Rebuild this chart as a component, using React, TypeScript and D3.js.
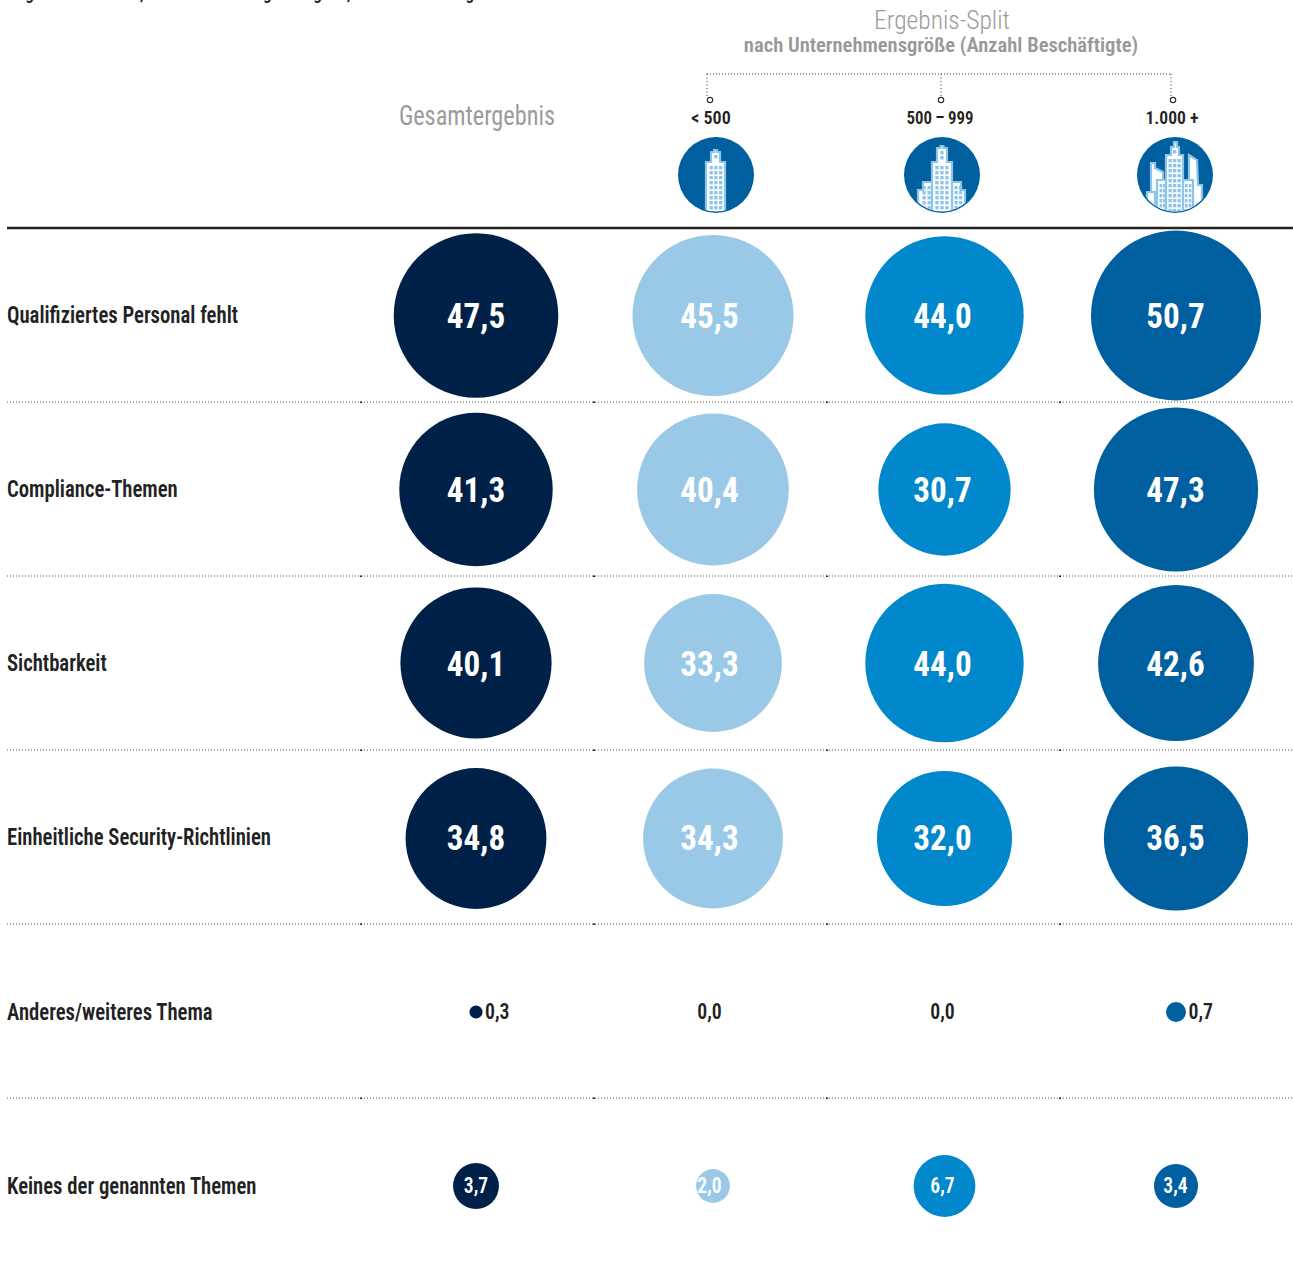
import React from "react";
import * as d3 from "d3";

const topics = ["Qualifiziertes Personal fehlt","Compliance-Themen","Sichtbarkeit","Einheitliche Security-Richtlinien","Anderes/weiteres Thema","Keines der genannten Themen"];
const gesamt = [47.5,41.3,40.1,34.8,0.3,3.7];
const u500 = [45.5,40.4,33.3,34.3,0,2.0];
const m500 = [44.0,30.7,44.0,32.0,0,6.7];
const g1000 = [50.7,47.3,42.6,36.5,0.7,3.4];
const seriesValues = [gesamt,u500,m500,g1000];
const seriesColors = ["#002147","#9ac9e7","#0087cc","#00609f"];
const sizeLabels = ["< 500","500\u2009\u2013\u2009999","1.000 +"];

const FONT = "'Roboto Condensed',Roboto,'Liberation Sans',sans-serif";
const r = d3.scaleSqrt().domain([0,50.7]).range([0,85]);
const fmt = (v:number)=>v.toFixed(1).replace(".",",");
const rowY = [315.5,489.5,663,838.5,1012,1186];
const textRowY = [315,489,663,837,1011.5,1185.5];
const circleX = [476,713,944.5,1176];
const labelX = [476,709.5,942.5,1175.5];

function T({x,y,sx=1,children,...rest}:any){
  return <text transform={`translate(${x},${y}) scale(${sx},1)`} {...rest}>{children}</text>;
}

type Pt=[number,number];
const pathOf=(p:Pt[])=>"M"+p.map(q=>q.join(",")).join("L")+"Z";
function Shape({pts}:{pts:Pt[]}){
  return <path d={pathOf(pts)} fill="#fff" stroke="#8cc4ea" strokeWidth={2.2} strokeLinejoin="miter"/>;
}
function Windows({xs,y0,y1,step=5,w=3.3}:{xs:number[];y0:number;y1:number;step?:number;w?:number}){
  const ys=d3.range(y0,y1,step);
  return <g fill="#8cc4ea">{xs.flatMap(x=>ys.map(y=><rect key={x+"-"+y} x={x} y={y} width={w} height={3.4}/>))}</g>;
}

function Icon({cx,cy,n,id}:{cx:number;cy:number;n:number;id:string}){
  return <g transform={`translate(${cx},${cy})`}>
    <clipPath id={id}><circle r={36.5}/></clipPath>
    <circle r={38} fill="#00609f"/>
    <g clipPath={`url(#${id})`}>
      {n===1&&<>
        <Shape pts={[[-10,40],[-10,-13],[-5,-13],[-5,-23],[-2,-23],[-2,-25],[1,-25],[1,-23],[4,-23],[4,-13],[9,-13],[9,40]]}/>
        <Windows xs={[-1.8]} y0={-20} y1={-15}/>
        <Windows xs={[-6.5,-1.8,3]} y0={-9} y1={36}/>
      </>}
      {n===2&&<>
        <Shape pts={[[-24,40],[-24,15],[-19,15],[-19,7],[-10,7],[-10,40]]}/>
        <Shape pts={[[10,40],[10,7],[19,7],[19,15],[23,15],[23,40]]}/>
        <Shape pts={[[-10,40],[-10,-13],[-5,-13],[-5,-27],[-1.5,-27],[-1.5,-29],[1.5,-29],[1.5,-27],[5,-27],[5,-13],[10,-13],[10,40]]}/>
        <Windows xs={[-1.7]} y0={-24} y1={-15}/>
        <Windows xs={[-6.7,-1.7,3.3]} y0={-9} y1={36}/>
        <Windows xs={[-19.5,-14.5]} y0={11} y1={36} w={3.2}/>
        <Windows xs={[12.5,17]} y0={11} y1={36} w={3.2}/>
      </>}
      {n===3&&<>
        <Shape pts={[[-24,40],[-24,-12],[-20,-12],[-20,-7],[-12,-3],[-12,40]]}/>
        <Shape pts={[[-28,40],[-28,17],[-20,17],[-20,40]]}/>
        <Shape pts={[[14,40],[14,-20],[22,-15],[23,10],[27,10],[27,40]]}/>
        <Shape pts={[[-18,40],[-18,5],[-9,5],[-9,40]]}/>
        <Shape pts={[[8,40],[8,5],[18,5],[18,40]]}/>
        <Shape pts={[[-9,40],[-9,-20],[-4,-20],[-4,-28],[-1,-28],[-1,-33],[2,-33],[2,-28],[4,-28],[4,-20],[8,-20],[8,40]]}/>
        <Windows xs={[-2]} y0={-25} y1={-21}/>
        <Windows xs={[-6.5,-2,2.5]} y0={-16} y1={36}/>
        <Windows xs={[-15.5,-12]} y0={9} y1={36} w={2.6}/>
        <Windows xs={[10,13.8]} y0={9} y1={36} w={2.6}/>
      </>}
    </g>
  </g>;
}

export default function App(){
  const vLines=[707,941,1171];
  const dotY=[402,576,750,924,1098];
  return <svg width={1293} height={1262} style={{position:"absolute",left:0,top:0,background:"#fff"}} fontFamily={FONT}>
    <T x={7} y={-1} sx={0.9} fontSize={19} fontWeight={600} fill="#222">Angaben in Prozent; Mehrfachnennungen möglich; Basis: alle Befragten</T>
    <T x={942} y={29} sx={0.98} textAnchor="middle" fontSize={26} fontWeight={300} fill="#9a9b9d">Ergebnis-Split</T>
    <T x={941} y={52} sx={0.98} textAnchor="middle" fontSize={21} fontWeight={600} fill="#97989a">nach Unternehmensgröße (Anzahl Beschäftigte)</T>
    <T x={477} y={125} sx={0.9} textAnchor="middle" fontSize={27} fontWeight={400} fill="#9a9b9d">Gesamtergebnis</T>
    <path d="M707,74H1171" stroke="#333" strokeDasharray="1 2" fill="none"/>
    {vLines.map((x,i)=><g key={x}>
      <path d={`M${x},74V96`} stroke="#333" strokeDasharray="1 2.5" fill="none"/>
      <circle cx={[710,941,1173][i]} cy={100} r={2.7} fill="#fff" stroke="#333" strokeWidth={1.2}/>
      <T x={[711,940,1172][i]} y={124} sx={[0.95,0.89,0.93][i]} textAnchor="middle" fontSize={19} fontWeight={600} fill="#222">{sizeLabels[i]}</T>
      <Icon cx={[716,942,1175][i]} cy={175} n={i+1} id={"c"+i}/>
    </g>)}
    <line x1={7} x2={1293} y1={228} y2={228} stroke="#222" strokeWidth={2.5}/>
    {dotY.map(y=><g key={y}>
      <line x1={7} x2={1293} y1={y} y2={y} stroke="#555" strokeDasharray="1 2"/>
      {[360,593,826,1059].map(x=><rect key={x} x={x} y={y-0.5} width={2} height={1.5} fill="#222"/>)}
    </g>)}
    {topics.map((t,i)=><T key={t} x={7} y={textRowY[i]+8} sx={0.9} fontSize={23} fontWeight={600} fill="#222">{t}</T>)}
    {seriesValues.map((vals,s)=>vals.map((v,i)=>{
      const y=rowY[i]; const ty=textRowY[i]; const rad=r(v); const big=v>=10; const small=v<1;
      return <g key={s+"-"+i}>
        {v>0&&<circle cx={circleX[s]} cy={y} r={rad} fill={seriesColors[s]}/>}
        {small
          ? (v===0
              ? <T x={labelX[s]} y={ty+7} sx={0.9} textAnchor="middle" fontSize={22} fontWeight={600} fill="#222">{fmt(v)}</T>
              : <T x={circleX[s]+rad+2.5} y={ty+7} sx={0.9} fontSize={22} fontWeight={600} fill="#222">{fmt(v)}</T>)
          : <T x={labelX[s]} y={ty+(big?13:7)} sx={big?0.92:0.89} textAnchor="middle" fontSize={big?36:22} fontWeight={big?700:600} fill="#fff">{fmt(v)}</T>}
      </g>;
    }))}
  </svg>;
}
